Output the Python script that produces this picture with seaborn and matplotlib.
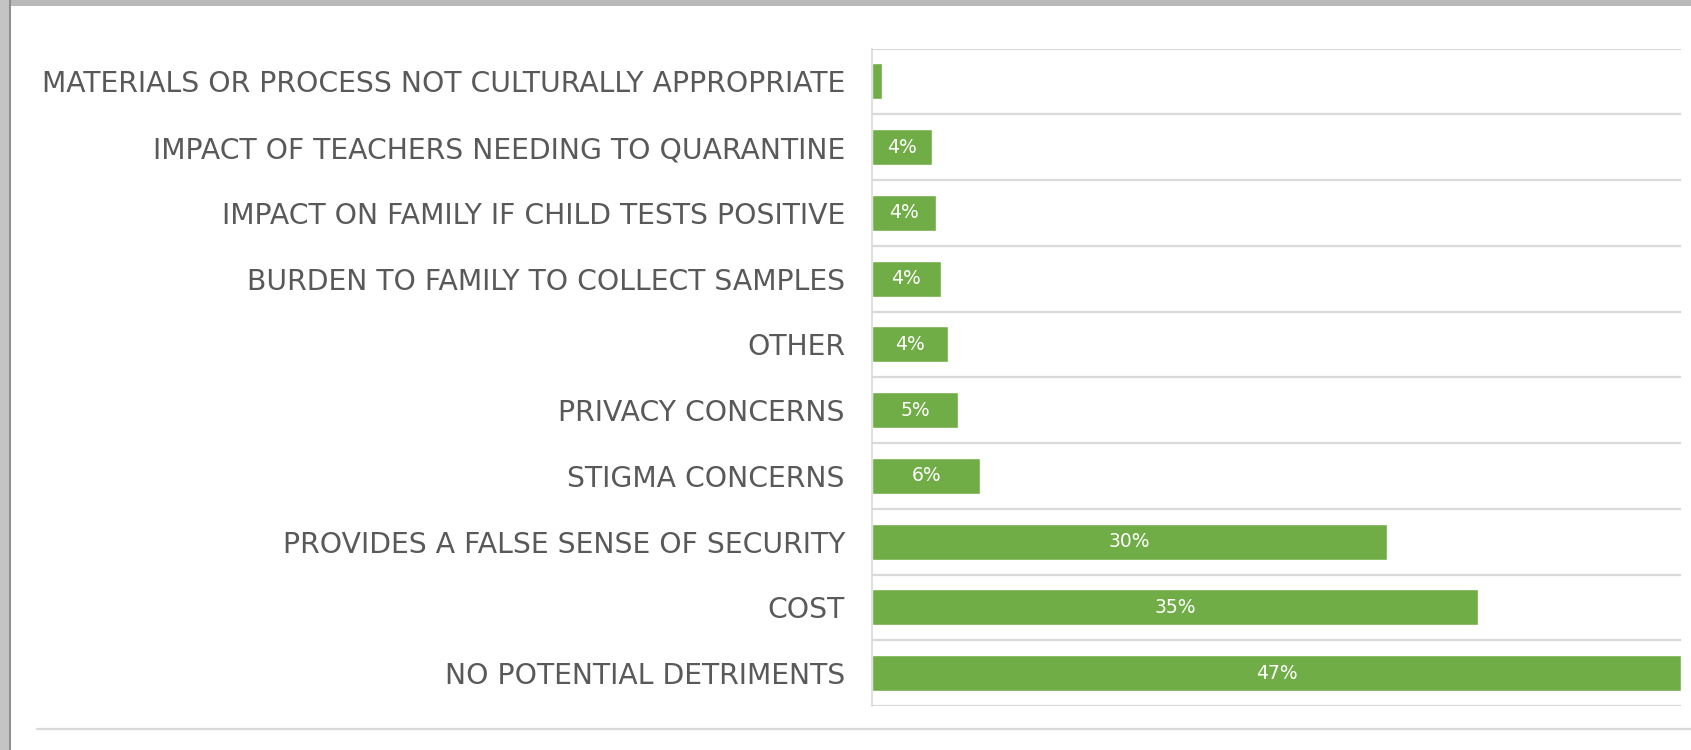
import seaborn as sns
import matplotlib.pyplot as plt
import pandas as pd
from matplotlib.patches import Rectangle
from matplotlib.lines import Line2D

# Survey data: potential detriments of school testing (share of responses, %)
categories = [
    "MATERIALS OR PROCESS NOT CULTURALLY APPROPRIATE",
    "IMPACT OF TEACHERS NEEDING TO QUARANTINE",
    "IMPACT ON FAMILY IF CHILD TESTS POSITIVE",
    "BURDEN TO FAMILY TO COLLECT SAMPLES",
    "OTHER",
    "PRIVACY CONCERNS",
    "STIGMA CONCERNS",
    "PROVIDES A FALSE SENSE OF SECURITY",
    "COST",
    "NO POTENTIAL DETRIMENTS",
]
values = [0.6, 3.5, 3.7, 4.0, 4.4, 5.0, 6.3, 29.9, 35.2, 47.0]

df = pd.DataFrame({"category": categories, "value": values})

sns.set_style("white")
plt.rcParams["font.family"] = ["DejaVu Sans"]

fig = plt.figure(figsize=(16.91, 7.5), dpi=100)
ax = fig.add_axes([872 / 1691, 1 - 706 / 750, (1681 - 872) / 1691, (706 - 48.5) / 750])

sns.barplot(data=df, x="value", y="category", orient="h", color="#70AD47",
            saturation=1, width=0.55, ax=ax)

ax.set_xlim(0, max(values))
ax.set_ylim(len(categories) - 0.5, -0.5)

# row separators like the Excel gridlines
ax.set_yticks([i - 0.5 for i in range(len(categories) + 1)], minor=True)
ax.grid(which="minor", axis="y", color="#d9d9d9", linewidth=1.6)
ax.grid(which="major", visible=False)
ax.set_axisbelow(True)

for side in ["top", "right", "bottom"]:
    ax.spines[side].set_visible(False)
ax.spines["left"].set_color("#d9d9d9")
ax.spines["left"].set_linewidth(1.2)

ax.set_xticks([])
ax.set_xlabel("")
ax.set_ylabel("")
ax.tick_params(axis="y", which="both", length=0, pad=19.5)
for lbl in ax.get_yticklabels():
    lbl.set_fontsize(20.3)
    lbl.set_color("#595959")

# data labels centred in bars
for i, v in enumerate(values):
    if v >= 1:
        ax.text(v / 2, i, f"{v:.0f}%", ha="center", va="center",
                color="white", fontsize=13.5,
                family=["Liberation Sans Narrow", "DejaVu Sans"])

# screenshot frame: shadow on top/left edge and a bottom rule
fig.patches.append(Rectangle((0, 1 - 6 / 750), 1, 6 / 750, transform=fig.transFigure,
                             facecolor="#b9b9b9", edgecolor="none"))
fig.patches.append(Rectangle((0, 0), 11 / 1691, 1, transform=fig.transFigure,
                             facecolor="#c4c4c4", edgecolor="none"))
fig.lines.append(Line2D([9.5 / 1691, 9.5 / 1691], [0, 1], transform=fig.transFigure,
                        color="#8f8f8f", linewidth=1.5))
fig.lines.append(Line2D([37 / 1691, 1], [1 - 729 / 750, 1 - 729 / 750],
                        transform=fig.transFigure, color="#d9d9d9", linewidth=1.6))

plt.savefig("out.png", dpi=100)
plt.close()
